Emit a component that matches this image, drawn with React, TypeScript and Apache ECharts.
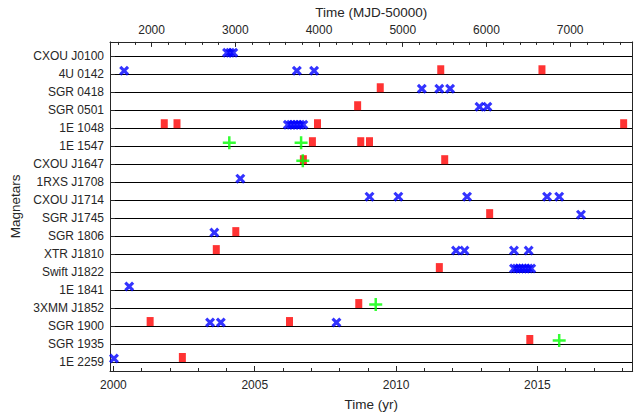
import React, { useEffect, useRef } from "react";
import * as echarts from "echarts";

const magnetars = [
  "CXOU J0100", "4U 0142", "SGR 0418", "SGR 0501", "1E 1048", "1E 1547",
  "CXOU J1647", "1RXS J1708", "CXOU J1714", "SGR J1745", "SGR 1806",
  "XTR J1810", "Swift J1822", "1E 1841", "3XMM J1852", "SGR 1900",
  "SGR 1935", "1E 2259",
];

// red squares: [magnetar, time (yr)]
const squarePoints: [string, number][] = [
  ["4U 0142", 2011.58], ["4U 0142", 2015.16],
  ["SGR 0418", 2009.44],
  ["SGR 0501", 2008.64],
  ["1E 1048", 2001.8], ["1E 1048", 2002.25], ["1E 1048", 2007.22], ["1E 1048", 2018.05],
  ["1E 1547", 2007.04], ["1E 1547", 2008.75], ["1E 1547", 2009.06],
  ["CXOU J1647", 2006.72], ["CXOU J1647", 2011.72],
  ["SGR J1745", 2013.31],
  ["SGR 1806", 2004.33],
  ["XTR J1810", 2003.64],
  ["Swift J1822", 2011.53],
  ["3XMM J1852", 2008.68],
  ["SGR 1900", 2001.3], ["SGR 1900", 2006.23],
  ["SGR 1935", 2014.73],
  ["1E 2259", 2002.44],
];

// blue crosses
const crossPoints: [string, number][] = [
  ["CXOU J0100", 2004.02], ["CXOU J0100", 2004.13], ["CXOU J0100", 2004.24],
  ["4U 0142", 2000.38], ["4U 0142", 2006.49], ["4U 0142", 2007.1],
  ["SGR 0418", 2010.91], ["SGR 0418", 2011.53], ["SGR 0418", 2011.91],
  ["SGR 0501", 2012.95], ["SGR 0501", 2013.23],
  ["1E 1048", 2006.17], ["1E 1048", 2006.28], ["1E 1048", 2006.39],
  ["1E 1048", 2006.5], ["1E 1048", 2006.61], ["1E 1048", 2006.72],
  ["1RXS J1708", 2004.49],
  ["CXOU J1714", 2009.06], ["CXOU J1714", 2010.08], ["CXOU J1714", 2012.51],
  ["CXOU J1714", 2015.34], ["CXOU J1714", 2015.77],
  ["SGR J1745", 2016.54],
  ["SGR 1806", 2003.57],
  ["XTR J1810", 2012.12], ["XTR J1810", 2012.42], ["XTR J1810", 2014.17], ["XTR J1810", 2014.69],
  ["Swift J1822", 2014.17], ["Swift J1822", 2014.27], ["Swift J1822", 2014.37],
  ["Swift J1822", 2014.47], ["Swift J1822", 2014.57], ["Swift J1822", 2014.68],
  ["Swift J1822", 2014.78],
  ["1E 1841", 2000.56],
  ["SGR 1900", 2003.42], ["SGR 1900", 2003.8], ["SGR 1900", 2007.89],
  ["1E 2259", 2000.02],
];

// green pluses
const plusPoints: [string, number][] = [
  ["1E 1547", 2004.1], ["1E 1547", 2006.64],
  ["CXOU J1647", 2006.7],
  ["3XMM J1852", 2009.28],
  ["SGR 1935", 2015.77],
];

const yearMajorTicks = [2000, 2005, 2010, 2015];
const yearMinorTicks = [2001, 2002, 2003, 2004, 2006, 2007, 2008, 2009, 2011, 2012, 2013, 2014, 2016, 2017, 2018];
const mjdMajorTicks = [2000, 3000, 4000, 5000, 6000, 7000];
const mjdMinorTicks = [
  1600, 1800, 2200, 2400, 2600, 2800, 3200, 3400, 3600, 3800, 4200, 4400, 4600, 4800,
  5200, 5400, 5600, 5800, 6200, 6400, 6600, 6800, 7200, 7400, 7600,
];
const rowValues = magnetars.map((_, i) => i + 1);

const YEAR_MIN = 1999.88;
const YEAR_MAX = 2018.37;
const MJD_MIN = 1503;
const MJD_MAX = 7747;

const AX = "#262626";
const FONT = "Liberation Sans, Arial, Helvetica, sans-serif";

const toData = (pts: [string, number][]) =>
  pts.map(([name, t]) => [t, magnetars.indexOf(name) + 1]);

const X_PATH = "path://M0,2.2L2.2,0L5,2.8L7.8,0L10,2.2L7.2,5L10,7.8L7.8,10L5,7.2L2.2,10L0,7.8L2.8,5Z";
const PLUS_PATH = "path://M5.25,0H7.75V5.25H13V7.75H7.75V13H5.25V7.75H0V5.25H5.25Z";

const plain = (v: number) => String(v);

export default function App() {
  const ref = useRef<HTMLDivElement>(null);
  useEffect(() => {
    if (!ref.current) return;
    const chart = echarts.init(ref.current, undefined, { renderer: "svg" });
    const hiddenLine = { show: false };
    chart.setOption({
      animation: false,
      backgroundColor: "#ffffff",
      textStyle: { fontFamily: FONT },
      grid: { left: 110, right: 10.3, top: 38.3, bottom: 43.3, containLabel: false },
      xAxis: [
        {
          type: "value", position: "bottom", min: YEAR_MIN, max: YEAR_MAX,
          name: "Time (yr)", nameLocation: "middle", nameGap: 26,
          nameTextStyle: { fontSize: 13.5, color: AX, fontFamily: FONT },
          axisLine: { show: true, lineStyle: { color: AX, width: 1 } },
          axisTick: { show: true, inside: true, length: 5, customValues: yearMajorTicks, lineStyle: { color: AX } },
          axisLabel: { show: true, customValues: yearMajorTicks, margin: 8, fontSize: 12, color: AX, fontFamily: FONT, formatter: plain },
          splitLine: { show: false },
        },
        {
          type: "value", position: "bottom", min: YEAR_MIN, max: YEAR_MAX,
          axisLine: hiddenLine,
          axisTick: { show: true, inside: true, length: 3, customValues: yearMinorTicks, lineStyle: { color: AX } },
          axisLabel: { show: false },
          splitLine: { show: false },
        },
        {
          type: "value", position: "top", min: MJD_MIN, max: MJD_MAX,
          name: "Time (MJD-50000)", nameLocation: "middle", nameGap: 21,
          nameTextStyle: { fontSize: 13.5, color: AX, fontFamily: FONT },
          axisLine: { show: true, lineStyle: { color: AX, width: 1 } },
          axisTick: { show: true, inside: true, length: 5, customValues: mjdMajorTicks, lineStyle: { color: AX } },
          axisLabel: { show: true, customValues: mjdMajorTicks, margin: 6, fontSize: 12, color: AX, fontFamily: FONT, formatter: plain },
          splitLine: { show: false },
        },
        {
          type: "value", position: "top", min: MJD_MIN, max: MJD_MAX,
          axisLine: hiddenLine,
          axisTick: { show: true, inside: true, length: 3, customValues: mjdMinorTicks, lineStyle: { color: AX } },
          axisLabel: { show: false },
          splitLine: { show: false },
        },
      ],
      yAxis: [
        {
          type: "value", position: "left", inverse: true, min: 0.2, max: 18.5,
          name: "Magnetars", nameLocation: "middle", nameGap: 81, nameRotate: 90,
          nameTextStyle: { fontSize: 13.5, color: AX, fontFamily: FONT },
          axisLine: { show: true, lineStyle: { color: AX, width: 1 } },
          axisTick: { show: true, inside: true, length: 5, customValues: rowValues, lineStyle: { color: AX } },
          axisLabel: {
            show: true, customValues: rowValues, margin: 6, fontSize: 12, color: AX, fontFamily: FONT,
            formatter: (v: number) => magnetars[Math.round(v) - 1] ?? "",
          },
          splitLine: { show: true, lineStyle: { color: "#000000", width: 1 } },
        },
        {
          type: "value", position: "right", inverse: true, min: 0.2, max: 18.5,
          axisLine: { show: true, lineStyle: { color: AX, width: 1 } },
          axisTick: { show: false },
          axisLabel: { show: false },
          splitLine: { show: false },
        },
      ],
      series: [
        {
          type: "scatter", xAxisIndex: 0, yAxisIndex: 0, data: toData(squarePoints),
          symbol: "rect", symbolSize: [7, 9], symbolOffset: [0, -4.5],
          itemStyle: { color: "#ff0000" },
        },
        {
          type: "scatter", xAxisIndex: 0, yAxisIndex: 0, data: toData(crossPoints),
          symbol: X_PATH, symbolSize: 10, symbolOffset: [0, -3.5],
          itemStyle: { color: "#0000ff" },
        },
        {
          type: "scatter", xAxisIndex: 0, yAxisIndex: 0, data: toData(plusPoints),
          symbol: PLUS_PATH, symbolSize: 13, symbolOffset: [0, -3.5],
          itemStyle: { color: "#00ff00" },
        },
      ],
    });
    return () => chart.dispose();
  }, []);
  return (
    <div
      ref={ref}
      style={{ position: "fixed", left: 0, top: 0, width: 643, height: 416, background: "#fff" }}
    />
  );
}
